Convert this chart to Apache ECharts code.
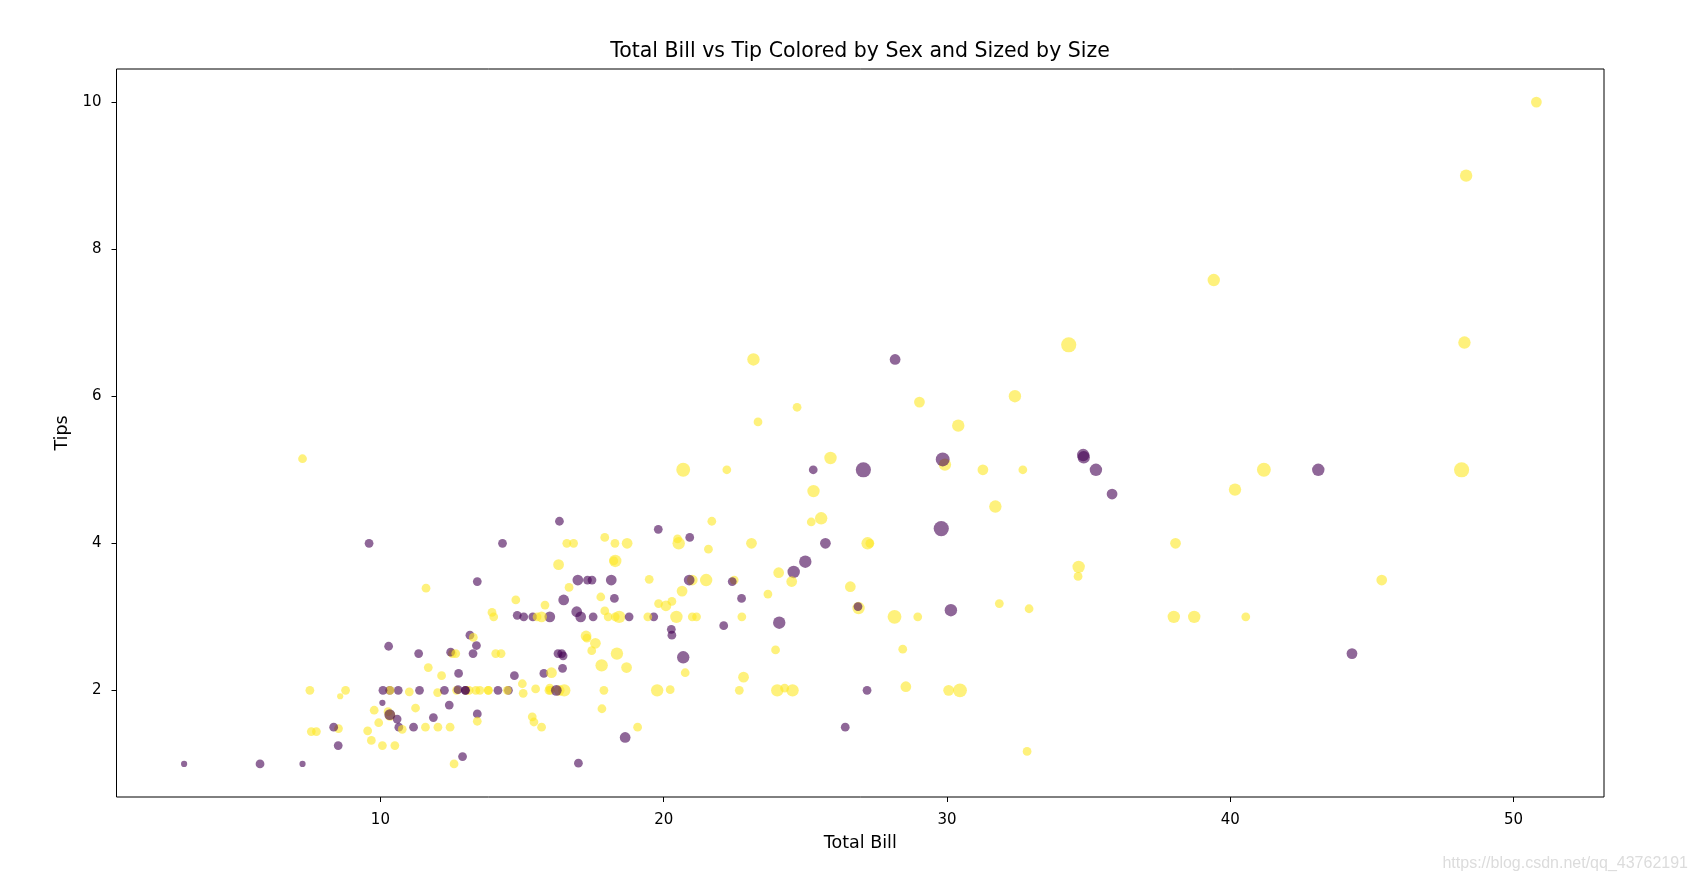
<!DOCTYPE html>
<html>
<head>
<meta charset="utf-8">
<script src="https://cdn.jsdelivr.net/npm/echarts@6/dist/echarts.min.js"></script>
<style>html,body{margin:0;padding:0;background:#fff}#c{width:1696px;height:879px}</style>
</head>
<body>
<div id="c"></div>
<script>
const totalBill = [16.99,10.34,21.01,23.68,24.59,25.29,8.77,26.88,15.04,14.78,10.27,35.26,15.42,18.43,14.83,21.58,10.33,16.29,16.97,20.65,17.92,20.29,15.77,39.42,19.82,17.81,13.37,12.69,21.7,19.65,9.55,18.35,15.06,20.69,17.78,24.06,16.31,16.93,18.69,31.27,16.04,17.46,13.94,9.68,30.4,18.29,22.23,32.4,28.55,18.04,12.54,10.29,34.81,9.94,25.56,19.49,38.01,26.41,11.24,48.27,20.29,13.81,11.02,18.29,17.59,20.08,16.45,3.07,20.23,15.01,12.02,17.07,26.86,25.28,14.73,10.51,17.92,27.2,22.76,17.29,19.44,16.66,10.07,32.68,15.98,34.83,13.03,18.28,24.71,21.16,28.97,22.49,5.75,16.32,22.75,40.17,27.28,12.03,21.01,12.46,11.35,15.38,44.3,22.42,20.92,15.36,20.49,25.21,18.24,14.31,14.0,7.25,38.07,23.95,25.71,17.31,29.93,10.65,12.43,24.08,11.69,13.42,14.26,15.95,12.48,29.8,8.52,14.52,11.38,22.82,19.08,20.27,11.17,12.26,18.26,8.51,10.33,14.15,16.0,13.16,17.47,34.3,41.19,27.05,16.43,8.35,18.64,11.87,9.78,7.51,14.07,13.13,17.26,24.55,19.77,29.85,48.17,25.0,13.39,16.49,21.5,12.66,16.21,13.81,17.51,24.52,20.76,31.71,10.59,10.63,50.81,15.81,7.25,31.85,16.82,32.9,17.89,14.48,9.6,34.63,34.65,23.33,45.35,23.17,40.55,20.69,20.9,30.46,18.15,23.1,15.69,19.81,28.44,15.48,16.58,7.56,10.34,43.11,13.0,13.51,18.71,12.74,13.0,16.4,20.53,16.47,26.59,38.73,24.27,12.76,30.06,25.89,48.33,13.27,28.17,12.9,28.15,11.59,7.74,30.14,12.16,13.42,8.58,15.98,13.42,16.27,10.09,20.45,13.28,22.12,24.01,15.69,11.61,10.77,15.53,10.07,12.6,32.83,35.83,29.03,27.18,22.67,17.82,18.78];
const tip = [1.01,1.66,3.5,3.31,3.61,4.71,2.0,3.12,1.96,3.23,1.71,5.0,1.57,3.0,3.02,3.92,1.67,3.71,3.5,3.35,4.08,2.75,2.23,7.58,3.18,2.34,2.0,2.0,4.3,3.0,1.45,2.5,3.0,2.45,3.27,3.6,2.0,3.07,2.31,5.0,2.24,2.54,3.06,1.32,5.6,3.0,5.0,6.0,2.05,3.0,2.5,2.6,5.2,1.56,4.34,3.51,3.0,1.5,1.76,6.73,3.21,2.0,1.98,3.76,2.64,3.15,2.47,1.0,2.01,2.09,1.97,3.0,3.14,5.0,2.2,1.25,3.08,4.0,3.0,2.71,3.0,3.4,1.83,5.0,2.03,5.17,2.0,4.0,5.85,3.0,3.0,3.5,1.0,4.3,3.25,4.73,4.0,1.5,3.0,1.5,2.5,3.0,2.5,3.48,4.08,1.64,4.06,4.29,3.76,4.0,3.0,1.0,4.0,2.55,4.0,3.5,5.07,1.5,1.8,2.92,2.31,1.68,2.5,2.0,2.52,4.2,1.48,2.0,2.0,2.18,1.5,2.83,1.5,2.0,3.25,1.25,2.0,2.0,2.0,2.75,3.5,6.7,5.0,5.0,2.3,1.5,1.36,1.63,1.73,2.0,2.5,2.0,2.74,2.0,2.0,5.14,5.0,3.75,2.61,2.0,3.5,2.5,2.0,2.0,3.0,3.48,2.24,4.5,1.61,2.0,10.0,3.16,5.15,3.18,4.0,3.11,2.0,2.0,4.0,3.55,3.68,5.65,3.5,6.5,3.0,5.0,3.5,2.0,3.5,4.0,1.5,4.19,2.56,2.02,4.0,1.44,2.0,5.0,2.0,2.0,4.0,2.01,2.0,2.5,4.0,3.23,3.41,3.0,2.03,2.23,2.0,5.16,9.0,2.5,6.5,1.1,3.0,1.5,1.44,3.09,2.2,3.48,1.92,3.0,1.58,2.5,2.0,3.0,2.72,2.88,2.0,3.0,3.39,1.47,3.0,1.25,1.0,1.17,4.67,5.92,2.0,2.0,1.75,3.0];
const sex = [
  'F','M','M','M','F','M','M','M','M','M',
  'M','F','M','M','F','M','F','M','F','M',
  'M','F','F','M','M','M','M','M','M','F',
  'M','M','F','F','M','M','M','F','M','M',
  'M','M','M','M','M','M','M','M','M','M',
  'M','F','F','M','M','M','M','F','M','M',
  'M','M','M','M','M','M','F','F','M','M',
  'M','F','F','F','F','M','M','M','M','M',
  'M','M','F','M','M','F','M','M','M','M',
  'M','M','F','F','F','M','M','M','M','M',
  'F','F','F','F','F','M','M','M','M','F',
  'M','F','M','M','F','F','M','F','F','F',
  'M','F','M','M','F','F','M','F','F','M',
  'M','F','F','F','F','F','F','F','M','F',
  'F','M','M','F','F','F','F','F','M','M',
  'M','M','M','M','M','F','M','F','F','M',
  'M','M','F','M','F','M','M','M','F','F',
  'M','M','M','M','M','M','M','M','F','M',
  'M','M','M','M','M','M','F','M','F','M',
  'M','F','M','M','M','M','M','F','F','M',
  'M','F','F','F','M','F','M','M','M','F',
  'M','M','M','F','F','F','M','M','M','F',
  'M','F','M','F','M','F','F','M','M','F',
  'M','M','M','M','M','M','M','M','F','M',
  'F','M','M','F'];
const partySize = [2,3,3,2,4,4,2,4,2,2,2,4,2,4,2,2,3,3,3,3,2,2,2,4,2,4,2,2,2,2,2,4,2,4,2,3,3,3,3,3,3,2,2,2,4,2,2,4,3,2,2,2,4,2,4,2,4,2,2,4,2,2,2,4,3,3,2,1,2,2,2,3,2,2,2,2,2,4,2,2,2,2,1,2,2,4,2,2,2,2,2,2,2,2,2,4,2,2,2,2,2,2,3,2,2,2,2,2,2,2,2,1,3,2,3,2,4,2,2,4,2,2,2,2,2,6,2,2,2,3,2,2,2,2,2,2,2,2,2,2,2,6,5,6,2,2,3,2,2,2,2,2,3,4,4,5,6,4,2,4,4,2,3,2,2,3,2,4,2,2,3,2,2,2,2,2,2,2,2,2,4,2,3,4,2,5,3,5,3,3,2,2,2,2,2,2,2,4,2,2,3,2,2,2,4,3,3,4,2,2,3,4,4,2,3,2,5,2,2,4,2,2,1,3,2,2,2,4,2,2,4,3,2,2,2,2,2,2,3,3,2,2,2,2];
const xTicks = [10,20,30,40,50];
const yTicks = [2,4,6,8,10];

function padRange(arr){const lo=Math.min(...arr),hi=Math.max(...arr),m=(hi-lo)*0.05;return [lo-m,hi+m];}
const xr = padRange(totalBill), yr = padRange(tip);
const PURPLE = '#440154', YELLOW = '#fde725';
const points = totalBill.map((v,i)=>[v, tip[i], partySize[i], sex[i]]);

const chart = echarts.init(document.getElementById('c'), null, {renderer:'canvas'});
const FONT = 'DejaVu Sans';
chart.setOption({
  animation:false,
  backgroundColor:'#fff',
  textStyle:{fontFamily:FONT},
  grid:{left:116.5, right:92, top:69, bottom:82, show:true, borderColor:'#000', borderWidth:1, backgroundColor:'transparent'},
  graphic:[
    {type:'text', x:860, y:52, style:{text:'Total Bill vs Tip Colored by Sex and Sized by Size', fontFamily:FONT, fontSize:20.5, fill:'#000', textAlign:'center', textVerticalAlign:'middle'}},
    {type:'text', x:1688, y:864, style:{text:'https://blog.csdn.net/qq_43762191', fontFamily:'Liberation Sans', fontSize:16, fill:'#dcdcdc', textAlign:'right', textVerticalAlign:'middle'}}
  ],
  xAxis:{type:'value', min:xr[0], max:xr[1], name:'Total Bill', nameLocation:'middle', nameGap:37.5,
    nameTextStyle:{fontFamily:FONT, fontSize:17.5, color:'#000'},
    axisLine:{show:false}, splitLine:{show:false},
    axisTick:{show:true, length:5, customValues:xTicks, lineStyle:{color:'#000', width:1}},
    axisLabel:{customValues:xTicks, margin:16, fontFamily:FONT, fontSize:15, color:'#000'}},
  yAxis:{type:'value', min:yr[0], max:yr[1], name:'Tips', nameLocation:'middle', nameGap:41.5,
    nameTextStyle:{fontFamily:FONT, fontSize:17.5, color:'#000'},
    axisLine:{show:false}, splitLine:{show:false},
    axisTick:{show:true, length:5, customValues:yTicks, lineStyle:{color:'#000', width:1}},
    axisLabel:{customValues:yTicks, margin:15, fontFamily:FONT, fontSize:15, color:'#000'}},
  series:[{
    type:'scatter',
    data:points,
    symbol:'circle',
    symbolSize:d=>6.2*Math.sqrt(d[2]),
    itemStyle:{
      opacity:0.6,
      color:p=>p.data[3]==='F'?PURPLE:YELLOW,
      borderWidth:0
    }
  }]
});
</script>
</body>
</html>
